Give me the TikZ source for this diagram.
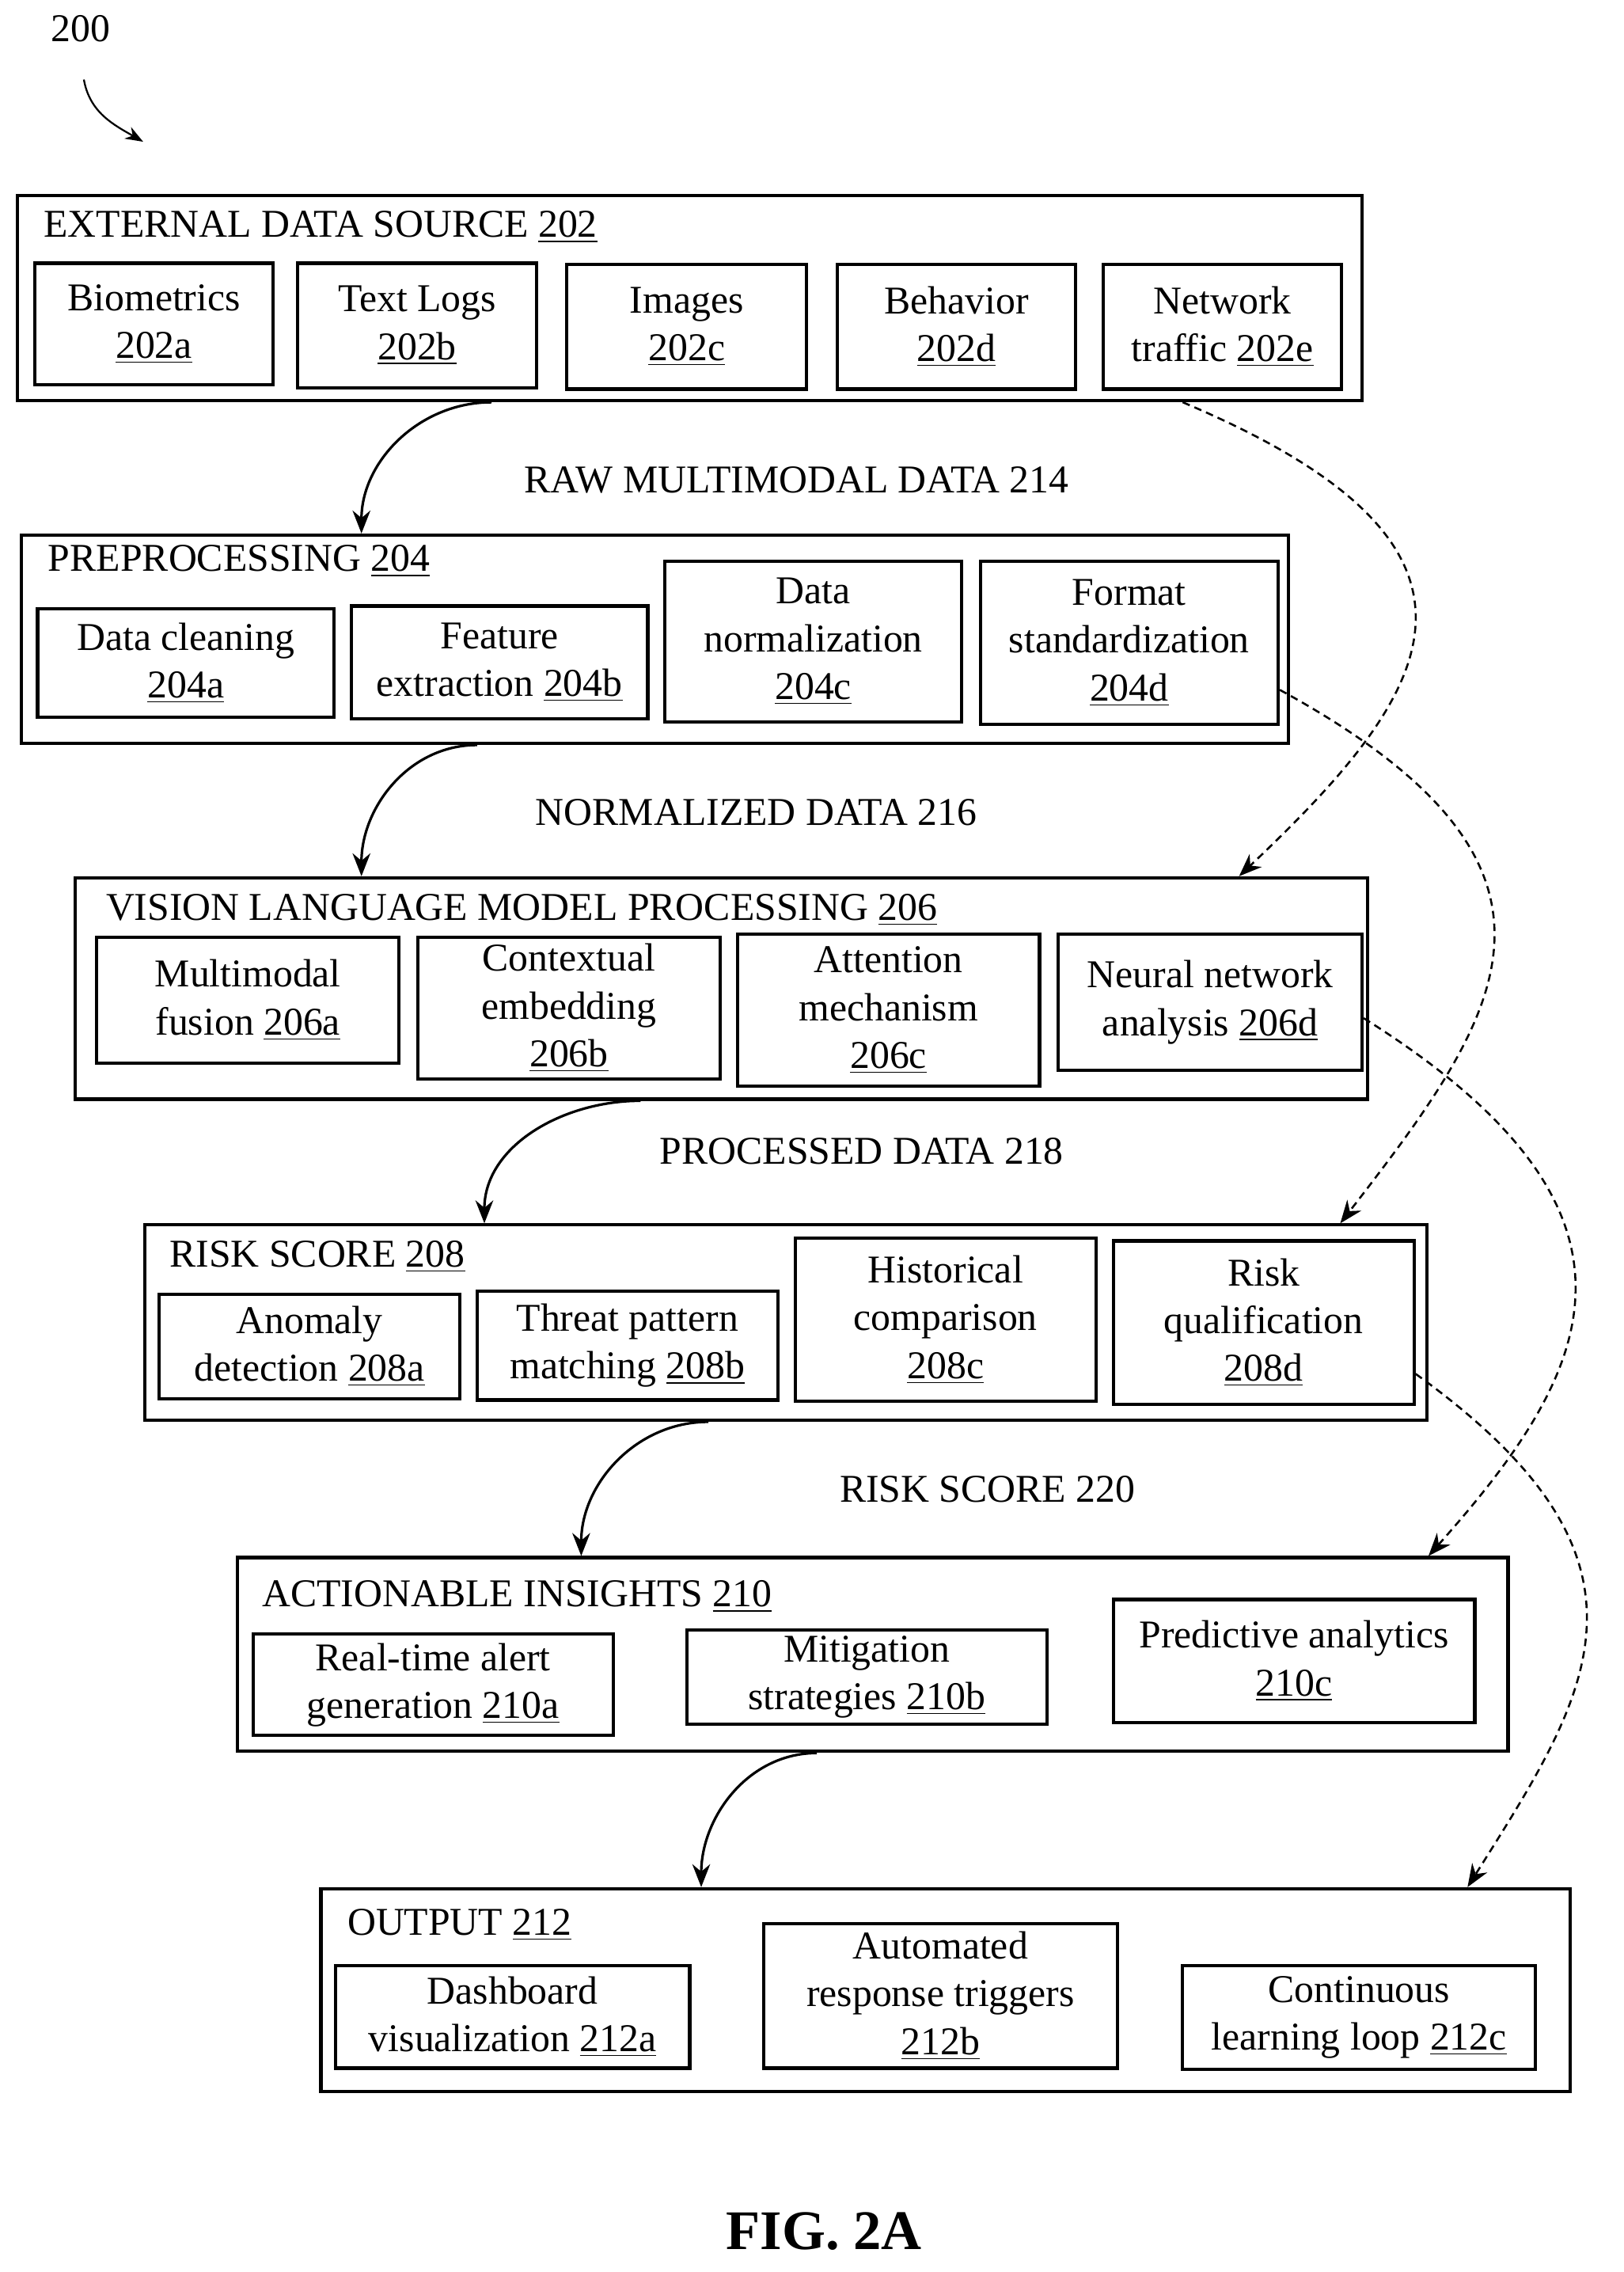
\documentclass[tikz,border=0pt]{standalone}
\usepackage{fontspec}
\setmainfont{Liberation Serif}
\usetikzlibrary{arrows.meta}
\tikzset{
  box/.style={draw, line width=1.3pt, inner sep=0pt, align=center,
    font=\fontsize{15.5}{18.8}\selectfont},
  outer/.style={draw, line width=1.3pt, inner sep=0pt},
  ttl/.style={anchor=west, inner sep=0pt, font=\fontsize{15.5}{18}\selectfont},
  lbl/.style={font=\fontsize{15.5}{18}\selectfont},
  flow/.style={line width=1pt, -{Stealth[length=9pt,width=7pt]}},
  feed/.style={line width=0.8pt, dash pattern=on 3pt off 2pt, -{Stealth[length=9pt,width=7pt]}},
}
% box from corner (#2,#3) to corner (#4,#5)
\newcommand{\cbox}[7][box]{%
  \node[#1, minimum width={(#5-#3)*0.02cm}, minimum height={(#6-#4)*0.02cm}]
    (#2) at ({(#3+#5)/2},{(#4+#6)/2}) {#7};}
\begin{document}
\begin{tikzpicture}[x=0.02cm, y=-0.02cm]
  \useasboundingbox (0,0) rectangle (1123,1571);
  \node[lbl] (n200) at (56,20) {200};
  \coordinate (q0) at (58,55);
  \coordinate (q1) at (99,98);
  \draw[line width=0.7pt, -{Stealth[length=7pt]}] (q0) to[out=-80, in=150] (q1);

  % external data source
  \cbox[outer]{o202}{12}{135}{942}{277}{}
  \node[ttl] (t202) at (30,157) {EXTERNAL DATA SOURCE \underline{202}};
  \cbox{s202a}{24}{182}{189}{266}{Biometrics\\\underline{202a}}
  \cbox{s202b}{206}{182}{371}{268}{Text Logs\\\underline{202b}}
  \cbox{s202c}{392}{183}{558}{269}{Images\\\underline{202c}}
  \cbox{s202d}{579}{183}{744}{269}{Behavior\\\underline{202d}}
  \cbox{s202e}{763}{183}{928}{269}{Network\\traffic \underline{202e}}

  % preprocessing
  \cbox[outer]{o204}{15}{370}{891}{514}{}
  \node[ttl] (t204) at (33,388) {PREPROCESSING \underline{204}};
  \cbox{s204a}{26}{421}{231}{496}{Data cleaning\\\underline{204a}}
  \cbox{s204b}{243}{419}{448}{497}{Feature\\extraction \underline{204b}}
  \cbox{s204c}{460}{388}{665}{499}{Data\\normalization\\\underline{204c}}
  \cbox{s204d}{678}{388}{884}{501}{Format\\standardization\\\underline{204d}}

  % vlm processing
  \cbox[outer]{o206}{52}{607}{946}{760}{}
  \node[ttl] (t206) at (73,629) {VISION LANGUAGE MODEL PROCESSING \underline{206}};
  \cbox{s206a}{67}{648}{276}{735}{Multimodal\\fusion \underline{206a}}
  \cbox{s206b}{289}{648}{498}{746}{Contextual\\embedding\\\underline{206b}}
  \cbox{s206c}{510}{646}{719}{751}{Attention\\mechanism\\\underline{206c}}
  \cbox{s206d}{732}{646}{942}{740}{Neural network\\analysis \underline{206d}}

  % risk score
  \cbox[outer]{o208}{100}{847}{987}{982}{}
  \node[ttl] (t208) at (117,869) {RISK SCORE \underline{208}};
  \cbox{s208a}{110}{895}{318}{967}{Anomaly\\detection \underline{208a}}
  \cbox{s208b}{330}{893}{538}{968}{Threat pattern\\matching \underline{208b}}
  \cbox{s208c}{550}{856}{758}{969}{Historical\\comparison\\\underline{208c}}
  \cbox{s208d}{770}{858}{978}{971}{Risk\\qualification\\\underline{208d}}

  % actionable insights
  \cbox[outer]{o210}{164}{1077}{1043}{1211}{}
  \node[ttl] (t210) at (181,1104) {ACTIONABLE INSIGHTS \underline{210}};
  \cbox{s210a}{175}{1130}{424}{1200}{Real-time alert\\generation \underline{210a}}
  \cbox{s210b}{475}{1127}{724}{1192}{Mitigation\\strategies \underline{210b}}
  \cbox{s210c}{770}{1106}{1020}{1191}{Predictive analytics\\\underline{210c}}

  % output
  \cbox[outer]{o212}{222}{1306}{1086}{1446}{}
  \node[ttl] (t212) at (240,1331) {OUTPUT \underline{212}};
  \cbox{s212a}{232}{1359}{477}{1430}{Dashboard\\visualization \underline{212a}}
  \cbox{s212b}{528}{1330}{773}{1430}{Automated\\response triggers\\\underline{212b}}
  \cbox{s212c}{818}{1359}{1062}{1431}{Continuous\\learning loop \underline{212c}}

  % main flow
  \draw[flow] (o202.south -| 340,0) to[out=180, in=90] (o204.north -| 250,0);
  \node[lbl] (l214) at (551,332) {RAW MULTIMODAL DATA 214};
  \draw[flow] (o204.south -| 330,0) to[out=180, in=90] (o206.north -| 250,0);
  \node[lbl] (l216) at (523,562) {NORMALIZED DATA 216};
  \draw[flow] (o206.south -| 443,0) to[out=180, in=90] (o208.north -| 335,0);
  \node[lbl] (l218) at (596,796) {PROCESSED DATA 218};
  \draw[flow] (o208.south -| 490,0) to[out=180, in=90] (o210.north -| 402,0);
  \node[lbl] (l220) at (683,1030) {RISK SCORE 220};
  \draw[flow] (o210.south -| 565,0) to[out=180, in=90] (o212.north -| 485,0);

  % feed-forward links
  \draw[feed] (o202.south -| 818,0) .. controls (1060,380) and (990,480) .. (o206.north -| 857,0);
  \draw[feed] (s204d.east |- 0,477) .. controls (1110,600) and (1040,700) .. (o208.north -| 927,0);
  \draw[feed] (s206d.east |- 0,704) .. controls (1160,840) and (1100,950) .. (o210.north -| 988,0);
  \draw[feed] (s208d.east |- 0,950) .. controls (1160,1080) and (1100,1170) .. (o212.north -| 1015,0);

  \node[font=\bfseries\fontsize{22}{26}\selectfont] (fig) at (570,1543) {FIG. 2A};
\end{tikzpicture}
\end{document}
